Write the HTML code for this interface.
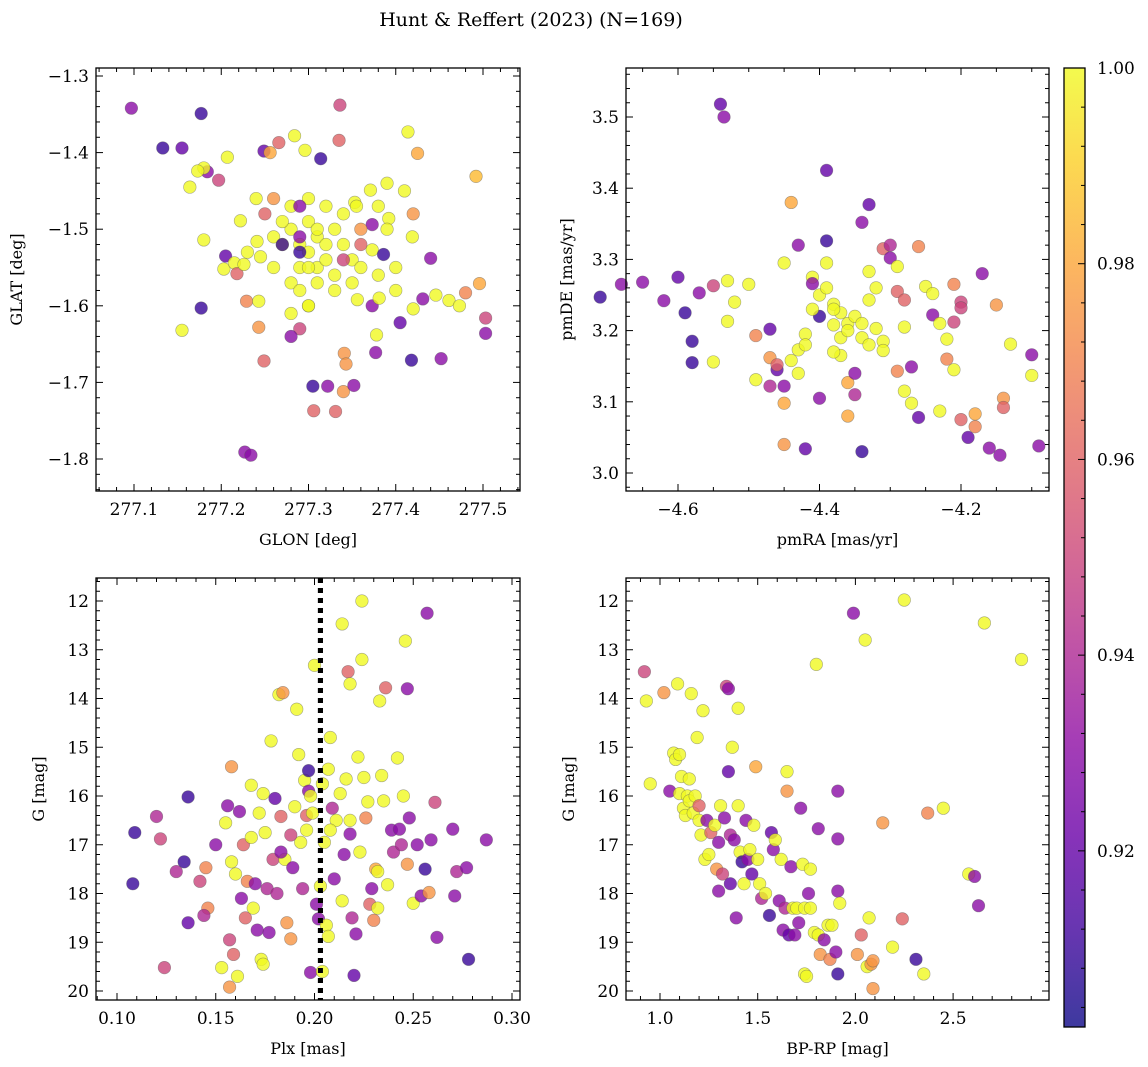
<!DOCTYPE html>
<html><head><meta charset="utf-8">
<style>
html,body{margin:0;padding:0;background:#fff;}
svg{display:block;font-family:"DejaVu Serif","Liberation Serif",serif;}
</style></head>
<body>
<svg id="fig" width="1148" height="1067" viewBox="0 0 1148 1067" xmlns="http://www.w3.org/2000/svg">
<text x="531" y="26" font-size="19" text-anchor="middle">Hunt &amp; Reffert (2023) (N=169)</text>
</svg>
<script>
const tlGlon=[277.097,277.133,277.155,277.177,277.184,277.197,277.180,277.173,277.164,277.207,277.180,277.155,277.177,277.205,277.203,277.215,277.222,277.218,277.226,277.229,277.243,277.245,277.241,277.243,277.249,277.227,277.234,277.249,277.256,277.266,277.284,277.296,277.314,277.335,277.336,277.353,277.371,277.355,277.373,277.392,277.414,277.425,277.373,277.386,277.373,277.356,277.381,277.419,277.440,277.446,277.420,277.431,277.461,277.473,277.492,277.480,277.496,277.503,277.503,277.452,277.418,277.405,277.378,277.377,277.341,277.343,277.340,277.331,277.352,277.322,277.306,277.305,277.28,277.29,277.30,277.31,277.30,277.32,277.33,277.31,277.29,277.27,277.28,277.30,277.32,277.34,277.33,277.31,277.28,277.26,277.29,277.30,277.33,277.35,277.32,277.27,277.26,277.31,277.34,277.36,277.35,277.28,277.29,277.30,277.29,277.29,277.34,277.28,277.29,277.38,277.40,277.36,277.25,277.26,277.36,277.39,277.40,277.30,277.27,277.42,277.41,277.39,277.38,277.23,277.24];
const tlGlat=[-1.342,-1.394,-1.394,-1.349,-1.425,-1.436,-1.420,-1.424,-1.445,-1.406,-1.514,-1.632,-1.603,-1.535,-1.552,-1.544,-1.489,-1.558,-1.546,-1.594,-1.594,-1.536,-1.516,-1.628,-1.672,-1.791,-1.795,-1.398,-1.400,-1.387,-1.378,-1.397,-1.408,-1.384,-1.338,-1.465,-1.449,-1.470,-1.494,-1.486,-1.373,-1.401,-1.527,-1.533,-1.600,-1.592,-1.590,-1.510,-1.538,-1.586,-1.604,-1.591,-1.593,-1.600,-1.431,-1.583,-1.571,-1.616,-1.636,-1.669,-1.671,-1.622,-1.638,-1.661,-1.662,-1.676,-1.712,-1.738,-1.704,-1.705,-1.737,-1.705,-1.50,-1.52,-1.49,-1.51,-1.53,-1.52,-1.50,-1.55,-1.55,-1.52,-1.47,-1.46,-1.47,-1.52,-1.56,-1.57,-1.57,-1.55,-1.58,-1.60,-1.58,-1.54,-1.54,-1.49,-1.51,-1.50,-1.48,-1.55,-1.57,-1.61,-1.51,-1.55,-1.47,-1.63,-1.54,-1.64,-1.53,-1.56,-1.55,-1.52,-1.48,-1.46,-1.50,-1.50,-1.58,-1.60,-1.52,-1.48,-1.45,-1.44,-1.47,-1.53,-1.46];
const tlProb=[.93,.91,.92,.91,.93,.95,1,1,1,1,1,1,.91,.92,1,1,1,.96,1,.97,1,1,1,.975,.96,.93,.93,.92,.98,.96,1,1,.91,.96,.95,1,1,1,.93,1,1,.98,1,.91,.93,1,1,1,.93,1,1,.93,1,1,.985,.97,.98,.95,.93,.93,.91,.92,1,.93,.975,.975,.975,.96,.93,.93,.96,.91,1,1,1,1,1,1,1,1,1,1,1,1,1,1,1,1,1,1,1,1,1,1,1,1,1,1,1,1,1,1,.93,1,.93,.95,.95,.93,.91,1,1,.96,.96,.975,.975,1,1,1,.91,.975,1,1,1,1,1];
const trPmra=[-4.71,-4.68,-4.65,-4.62,-4.60,-4.59,-4.58,-4.58,-4.57,-4.55,-4.54,-4.535,-4.53,-4.53,-4.52,-4.55,-4.50,-4.49,-4.49,-4.47,-4.47,-4.47,-4.46,-4.46,-4.45,-4.45,-4.45,-4.45,-4.44,-4.43,-4.44,-4.43,-4.43,-4.42,-4.41,-4.41,-4.40,-4.42,-4.40,-4.39,-4.39,-4.39,-4.38,-4.38,-4.37,-4.37,-4.36,-4.36,-4.35,-4.35,-4.34,-4.34,-4.33,-4.33,-4.33,-4.32,-4.32,-4.31,-4.31,-4.31,-4.30,-4.30,-4.29,-4.29,-4.28,-4.28,-4.29,-4.28,-4.27,-4.27,-4.26,-4.26,-4.25,-4.24,-4.24,-4.23,-4.22,-4.22,-4.23,-4.21,-4.21,-4.20,-4.21,-4.20,-4.19,-4.18,-4.18,-4.17,-4.16,-4.15,-4.145,-4.14,-4.14,-4.20,-4.13,-4.10,-4.10,-4.09,-4.40,-4.38,-4.36,-4.35,-4.34,-4.41,-4.37,-4.33,-4.36,-4.39,-4.38,-4.42,-4.34];
const trPmde=[3.247,3.265,3.268,3.242,3.275,3.225,3.185,3.155,3.253,3.263,3.518,3.500,3.270,3.213,3.240,3.156,3.265,3.193,3.131,3.202,3.162,3.122,3.145,3.152,3.122,3.040,3.098,3.295,3.380,3.320,3.158,3.173,3.140,3.195,3.275,3.266,3.220,3.034,3.105,3.425,3.326,3.295,3.237,3.208,3.225,3.165,3.127,3.080,3.140,3.110,3.030,3.352,3.377,3.283,3.243,3.260,3.203,3.185,3.172,3.315,3.320,3.302,3.255,3.290,3.243,3.205,3.143,3.115,3.149,3.098,3.078,3.318,3.262,3.252,3.222,3.210,3.188,3.160,3.087,3.212,3.265,3.240,3.145,3.075,3.050,3.065,3.083,3.280,3.035,3.236,3.025,3.105,3.092,3.232,3.181,3.166,3.137,3.038,3.25,3.23,3.21,3.22,3.19,3.23,3.19,3.18,3.20,3.26,3.17,3.18,3.21];
const trProb=[.91,.93,.93,.93,.92,.91,.91,.91,.93,.95,.92,.93,1,1,1,1,1,.97,1,.92,.975,.94,.92,.96,.93,.975,.98,1,.98,.93,1,1,1,1,1,.93,.91,.92,.93,.92,.91,1,1,1,1,1,.98,.98,.93,.94,.91,.93,.92,1,1,1,1,1,1,.96,.94,.93,.96,1,.96,1,.97,1,.93,1,.92,.97,1,1,.93,1,1,.97,1,.95,.97,.95,1,.96,.92,.97,.98,.93,.93,.975,.93,.975,.96,.95,1,.93,1,.93,1,1,1,1,1,1,1,1,1,1,1,1,1];
const blPlx=[0.109,0.108,0.120,0.122,0.124,0.130,0.134,0.136,0.136,0.142,0.145,0.146,0.144,0.150,0.153,0.155,0.156,0.157,0.158,0.158,0.159,0.160,0.161,0.157,0.162,0.163,0.164,0.165,0.166,0.168,0.168,0.169,0.170,0.171,0.172,0.173,0.174,0.174,0.175,0.176,0.177,0.178,0.179,0.180,0.181,0.182,0.183,0.184,0.185,0.186,0.188,0.189,0.190,0.191,0.192,0.193,0.194,0.195,0.196,0.197,0.197,0.198,0.198,0.199,0.200,0.201,0.202,0.203,0.204,0.204,0.205,0.206,0.207,0.207,0.208,0.209,0.210,0.211,0.213,0.214,0.214,0.215,0.216,0.217,0.218,0.218,0.219,0.220,0.221,0.222,0.223,0.224,0.224,0.225,0.226,0.227,0.228,0.229,0.230,0.231,0.232,0.233,0.234,0.235,0.236,0.237,0.239,0.240,0.242,0.243,0.244,0.245,0.246,0.247,0.247,0.248,0.250,0.252,0.254,0.256,0.257,0.258,0.259,0.261,0.262,0.270,0.271,0.272,0.277,0.278,0.287,0.208,0.196,0.188,0.183,0.232,0.218];
const blG=[16.75,17.8,16.42,16.88,19.52,17.55,17.35,16.02,18.6,17.75,17.47,18.3,18.45,17.0,19.52,16.55,16.2,18.95,15.4,17.35,19.25,17.6,19.7,19.92,16.32,18.1,17.0,18.5,17.75,16.85,15.78,18.3,17.8,18.75,16.35,19.35,19.45,15.95,16.75,17.9,18.8,14.87,17.3,16.05,18.0,13.92,16.42,13.88,17.3,18.6,18.93,17.47,16.22,14.22,15.15,16.95,17.9,15.68,16.4,15.9,15.48,16.0,19.62,16.35,13.32,18.22,18.52,17.85,19.6,15.75,16.95,18.65,15.45,18.88,14.8,16.25,17.7,16.5,15.95,12.47,18.15,17.2,15.65,13.45,13.7,16.78,18.5,19.68,18.83,15.2,17.15,12.0,13.2,15.62,16.45,16.12,18.22,17.9,18.55,17.5,18.3,14.05,15.58,16.1,13.78,17.82,16.7,17.15,15.22,16.68,17.0,16.0,12.82,13.8,17.4,16.45,18.2,17.0,18.05,17.5,12.25,17.98,16.9,16.13,18.9,16.68,18.05,17.55,17.47,19.35,16.9,16.7,16.7,16.8,17.15,17.55,16.5];
const blProb=[.91,.91,.94,.95,.95,.94,.91,.91,.92,.95,.97,.97,.94,.93,1,1,.93,.95,.975,1,.96,1,1,.975,.93,.93,.96,.96,.97,1,1,1,.93,.93,1,1,1,1,1,.94,.93,1,.95,.92,.94,1,.96,.975,1,.975,.975,.93,1,1,1,1,.94,1,.96,.93,.91,1,.93,1,1,.93,.93,1,1,1,1,1,1,1,1,.94,.93,1,1,1,1,.93,1,.96,1,.93,.94,.92,.93,1,1,1,1,1,.97,1,.96,.93,.97,.98,1,1,1,1,.96,1,.93,.94,1,.93,.94,1,1,.93,.975,.93,1,.93,.93,.91,.93,.975,.93,.95,.93,.93,.93,.94,.93,.91,.93,1,1,.95,.93,1,1];
const brBprp=[0.92,0.93,0.95,1.02,1.05,1.07,1.08,1.09,1.10,1.10,1.11,1.12,1.13,1.14,1.15,1.15,1.16,1.17,1.18,1.19,1.20,1.20,1.21,1.22,1.23,1.24,1.25,1.26,1.28,1.29,1.30,1.30,1.31,1.32,1.33,1.34,1.35,1.35,1.36,1.36,1.37,1.38,1.39,1.40,1.40,1.41,1.42,1.43,1.44,1.45,1.46,1.47,1.48,1.49,1.50,1.51,1.52,1.54,1.56,1.57,1.58,1.59,1.61,1.62,1.63,1.64,1.65,1.65,1.66,1.67,1.68,1.69,1.70,1.71,1.72,1.73,1.74,1.74,1.75,1.76,1.77,1.77,1.79,1.80,1.81,1.81,1.82,1.84,1.86,1.87,1.88,1.90,1.91,1.91,1.91,1.91,1.92,1.99,2.01,2.03,2.05,2.06,2.07,2.08,2.09,2.09,2.14,2.19,2.24,2.25,2.31,2.35,2.37,2.45,2.58,2.61,2.63,2.66,2.85];
const brG=[13.45,14.05,15.75,13.88,15.9,15.12,15.25,13.7,15.95,15.15,15.6,16.25,16.4,16.0,16.1,15.65,13.9,16.35,16.0,14.8,16.5,16.2,16.8,14.25,17.3,16.5,17.2,16.75,16.6,17.5,16.95,17.95,16.2,17.6,16.45,13.75,15.5,13.8,16.8,17.8,15.0,16.9,18.5,14.2,16.2,17.15,17.35,17.8,16.5,17.3,17.1,17.6,16.6,15.4,17.3,17.8,18.1,18.0,18.45,16.75,17.1,16.9,18.15,17.3,18.75,18.3,15.5,15.9,18.85,17.45,18.3,18.85,18.3,18.6,16.25,17.4,18.3,19.65,19.7,18.0,18.3,17.5,18.8,13.3,18.85,16.67,19.25,18.95,18.65,19.35,18.65,19.2,15.9,17.95,16.88,19.65,18.2,12.25,19.25,18.85,12.8,19.5,18.5,19.45,19.95,19.38,16.55,19.1,18.52,11.98,19.35,19.65,16.35,16.25,17.6,17.65,18.25,12.45,13.2];
const brProb=[.95,1,1,.975,.93,1,1,1,1,1,1,1,1,1,1,1,1,1,1,1,1,.96,1,1,1,.93,1,.96,1,.975,.93,.93,1,.95,.93,.95,.92,.93,.94,.92,1,.93,.93,1,1,1,.91,1,.93,.93,1,.92,1,.98,1,1,.94,1,.91,.92,.93,1,.93,1,.93,.94,1,.975,.92,.93,1,.93,1,.93,.93,1,1,1,1,.93,1,1,1,1,1,.93,.975,.93,1,.97,1,.93,.93,.93,.93,.91,1,.93,.975,.96,1,1,1,.975,.975,.975,.975,1,.96,1,.91,1,.97,1,1,.93,.93,1,1];

const cbTicks=[0.92,0.94,0.96,0.98,1.00];
const VMIN=0.902, VMAX=1.0;
const NS="http://www.w3.org/2000/svg";
const svg=document.getElementById('fig');
const stops=["#0d0887","#41049d","#6a00a8","#8f0da4","#b12a90","#cc4778","#e16462","#f2844b","#fca636","#fcce25","#f0f921"];
function hex(h){return [1,3,5].map(i=>parseInt(h.substr(i,2),16));}
function plasma(t){t=Math.max(0,Math.min(1,t));const f=t*10,i=Math.min(9,Math.floor(f)),r=f-i;const a=hex(stops[i]),b=hex(stops[i+1]);return 'rgb('+a.map((v,k)=>Math.round(v+(b[k]-v)*r)).join(',')+')';}
function col(p){return plasma((p-VMIN)/(VMAX-VMIN));}
function el(tag,attrs,parent){const e=document.createElementNS(NS,tag);for(const k in attrs)e.setAttribute(k,attrs[k]);(parent||svg).appendChild(e);return e;}
function fmt(v,d){let s=v.toFixed(d);return s.replace('-','\u2212');}

function panel(o){
  const g=el('g',{});
  
  
  const sx=v=>o.x0+(v-o.xmin)/(o.xmax-o.xmin)*(o.x1-o.x0);
  const sy=v=>o.inv? o.y0+(v-o.ymin)/(o.ymax-o.ymin)*(o.y1-o.y0) : o.y1-(v-o.ymin)/(o.ymax-o.ymin)*(o.y1-o.y0);
  if(o.vline!==undefined){const l=el('line',{x1:sx(o.vline),x2:sx(o.vline),y1:o.y0,y2:o.y1,stroke:'#000','stroke-width':5,'stroke-dasharray':'5,5'},g);
    
    }
  for(let i=0;i<o.X.length;i++){
    const c=el('circle',{cx:sx(o.X[i]),cy:sy(o.Y[i]),r:6.3,fill:col(o.P[i]),'fill-opacity':0.8,stroke:'#555','stroke-opacity':0.5,'stroke-width':0.6},g);
    
    
  }
  if(o.vline!==undefined){const l2=el('line',{x1:sx(o.vline),x2:sx(o.vline),y1:o.y0,y2:o.y1,stroke:'#000','stroke-width':5,'stroke-dasharray':'5,5'},g);
    
    }
  const fr=el('rect',{x:o.x0,y:o.y0,width:o.x1-o.x0,height:o.y1-o.y0,fill:'none',stroke:'#000','stroke-width':1.3},g);
  
  
  const nx0=Math.ceil(o.xmin/o.xminor-1e-9), nx1=Math.floor(o.xmax/o.xminor+1e-9);
  for(let n=nx0;n<=nx1;n++){
    const v=n*o.xminor;
    const X=sx(v); const major=Math.abs(v/o.xmajor-Math.round(v/o.xmajor))<1e-6; const L=major?7:4;
    el('line',{x1:X,x2:X,y1:o.y1,y2:o.y1-L,stroke:'#000','stroke-width':1},g);
    el('line',{x1:X,x2:X,y1:o.y0,y2:o.y0+L,stroke:'#000','stroke-width':1},g);
    if(major){const t=el('text',{x:X,y:o.y1+24,'font-size':17,'text-anchor':'middle'},g);t.textContent=fmt(v,o.xd);
      
      }
  }
  const ny0=Math.ceil(o.ymin/o.yminor-1e-9), ny1=Math.floor(o.ymax/o.yminor+1e-9);
  for(let n=ny0;n<=ny1;n++){
    const v=n*o.yminor;
    const Y=sy(v); const major=Math.abs(v/o.ymajor-Math.round(v/o.ymajor))<1e-6; const L=major?7:4;
    el('line',{x1:o.x0,x2:o.x0+L,y1:Y,y2:Y,stroke:'#000','stroke-width':1},g);
    el('line',{x1:o.x1,x2:o.x1-L,y1:Y,y2:Y,stroke:'#000','stroke-width':1},g);
    if(major){const t=el('text',{x:o.x0-7,y:Y+6,'font-size':17,'text-anchor':'end'},g);t.textContent=fmt(v,o.yd);
      
      }
  }
  const xl=el('text',{x:(o.x0+o.x1)/2,y:o.y1+54,'font-size':16,'text-anchor':'middle'},g);xl.textContent=o.xlabel;
  
  
  const yl=el('text',{x:0,y:0,'font-size':16,'text-anchor':'middle',transform:'translate('+o.ylx+','+((o.y0+o.y1)/2)+') rotate(-90)'},g);yl.textContent=o.ylabel;
  
  
}
panel({name:'panel-position',x0:96,x1:520,y0:68,y1:491,xmin:277.1-38/872.5,xmax:277.1+386/872.5,ymin:-1.3-423/766+8/766,ymax:-1.3+8/766,X:tlGlon,Y:tlGlat,P:tlProb,xmajor:0.1,xminor:0.02,ymajor:0.1,yminor:0.02,xd:1,yd:1,xlabel:'GLON [deg]',ylabel:'GLAT [deg]',ylx:22});
panel({name:'panel-proper-motion',x0:626,x1:1049,y0:68,y1:491,xmin:-4.6-52/707.5,xmax:-4.6+371/707.5,ymin:3.0-18/712,ymax:3.5+49/712,X:trPmra,Y:trPmde,P:trProb,xmajor:0.2,xminor:0.05,ymajor:0.1,yminor:0.02,xd:1,yd:1,xlabel:'pmRA [mas/yr]',ylabel:'pmDE [mas/yr]',ylx:572});
panel({name:'panel-parallax-mag',x0:96,x1:520,y0:578,y1:1000,inv:true,xmin:0.10-21/1975,xmax:0.10+403/1975,ymin:12-23/48.75,ymax:20+9/48.75,X:blPlx,Y:blG,P:blProb,xmajor:0.05,xminor:0.01,ymajor:1,yminor:0.2,xd:2,yd:0,xlabel:'Plx [mas]',ylabel:'G [mag]',ylx:44,vline:0.203});
panel({name:'panel-cmd',x0:626,x1:1049,y0:578,y1:1000,inv:true,xmin:1.0-34/195.4,xmax:1.0+389/195.4,ymin:12-23/48.75,ymax:20+9/48.75,X:brBprp,Y:brG,P:brProb,xmajor:0.5,xminor:0.1,ymajor:1,yminor:0.2,xd:1,yd:0,xlabel:'BP-RP [mag]',ylabel:'G [mag]',ylx:574});

const cb=el('g',{});


const cx0=1064,cx1=1085,cy0=68,cy1=1027;
const defs=el('defs',{},cb);
const lg=el('linearGradient',{id:'cbg',x1:0,y1:1,x2:0,y2:0},defs);
for(let i=0;i<=20;i++){el('stop',{offset:i/20,'stop-color':plasma(i/20)},lg);}
el('rect',{x:cx0,y:cy0,width:cx1-cx0,height:cy1-cy0,fill:'url(#cbg)','fill-opacity':0.8},cb);
el('rect',{x:cx0,y:cy0,width:cx1-cx0,height:cy1-cy0,fill:'none',stroke:'#000','stroke-width':1.3},cb);
const cyv=v=>cy1-(v-VMIN)/(VMAX-VMIN)*(cy1-cy0);
for(let n=226;n<=250;n++){const v=n*0.004;const Y=cyv(v);const major=(n%5===0);
  el('line',{x1:cx1,x2:cx1-(major?7:4),y1:Y,y2:Y,stroke:'#000','stroke-width':1},cb);}
cbTicks.forEach(v=>{const t=el('text',{x:cx1+12,y:cyv(v)+6,'font-size':17},cb);t.textContent=v.toFixed(2);
  
  });
</script>
</body></html>
